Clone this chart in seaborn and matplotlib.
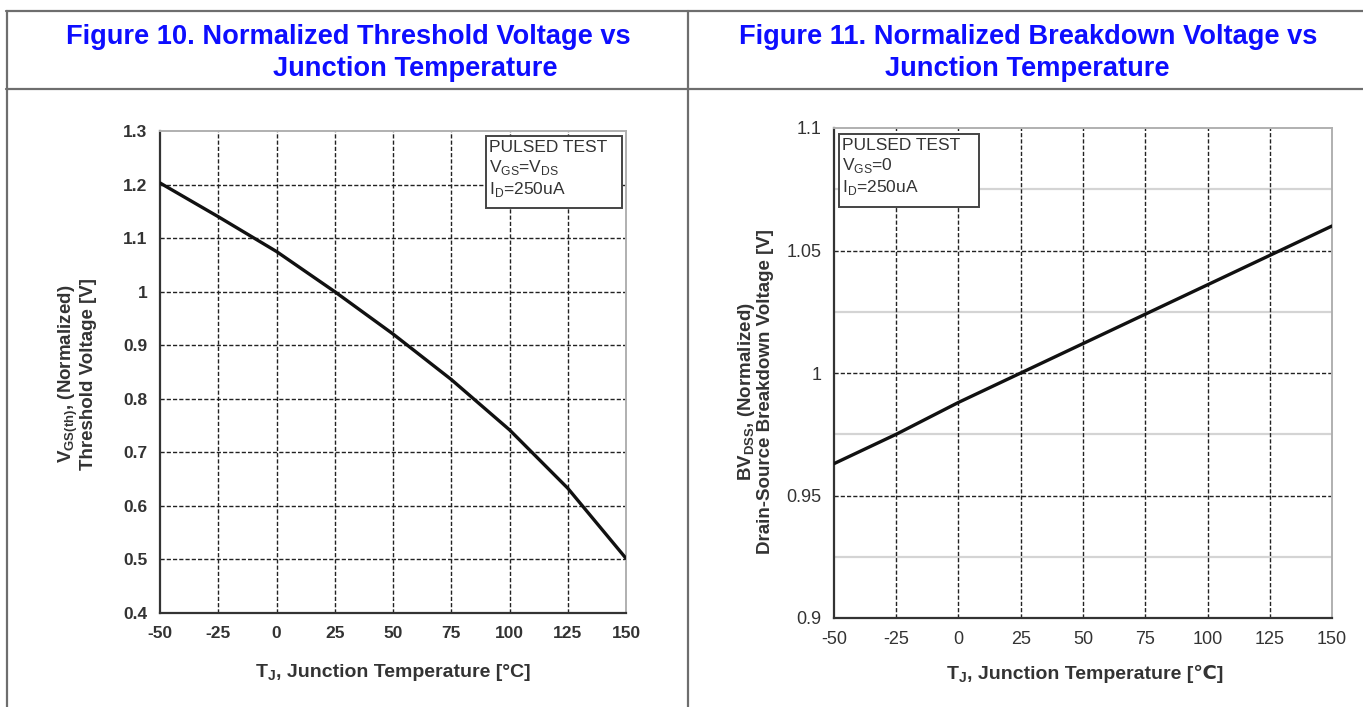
import matplotlib
matplotlib.use("Agg")
import matplotlib.pyplot as plt
from matplotlib.patches import Rectangle
import seaborn as sns
import pandas as pd

# Junction temperature sweep (degC)
temps = [-50, -25, 0, 25, 50, 75, 100, 125, 150]
# Normalized gate threshold voltage VGS(th)
vth_norm = [1.203, 1.140, 1.075, 1.000, 0.921, 0.836, 0.742, 0.633, 0.502]
# Normalized drain-source breakdown voltage BVDSS
bv_norm = [0.963, 0.975, 0.988, 1.000, 1.012, 1.024, 1.036, 1.048, 1.060]

x_ticks = [-50, -25, 0, 25, 50, 75, 100, 125, 150]
vth_ticks = [0.4, 0.5, 0.6, 0.7, 0.8, 0.9, 1.0, 1.1, 1.2, 1.3]
vth_ticklabels = ["0.4", "0.5", "0.6", "0.7", "0.8", "0.9", "1", "1.1", "1.2", "1.3"]
bv_ticks = [0.9, 0.95, 1.0, 1.05, 1.1]
bv_ticklabels = ["0.9", "0.95", "1", "1.05", "1.1"]
bv_minor = [0.925, 0.975, 1.025, 1.075]

sns.set_style("white")
FAM = ["Liberation Sans", "DejaVu Sans"]
plt.rcParams["font.family"] = FAM
plt.rcParams["mathtext.fontset"] = "custom"
plt.rcParams["mathtext.rm"] = "Liberation Sans"
plt.rcParams["mathtext.bf"] = "Liberation Sans:bold"

W, H = 1363, 707
fig = plt.figure(figsize=(W / 100, H / 100), dpi=100)
fig.patch.set_facecolor("white")
renderer = fig.canvas.get_renderer()


def fx(px):
    return px / W


def fy(py):
    return 1 - py / H


def rich_line(xc, ybase, pieces, **kw):
    """Lay out text pieces on one baseline, centred at xc (pixels).
    pieces: (string, fontsize, baseline shift in pixels)."""
    arts, widths = [], []
    for s, size, dy in pieces:
        t = fig.text(0, fy(ybase + dy), s, fontsize=size, ha="left", va="baseline", **kw)
        arts.append(t)
        widths.append(t.get_window_extent(renderer).width)
    x = xc - sum(widths) / 2
    for t, w in zip(arts, widths):
        t.set_x(fx(x))
        x += w


# table frame around the two figures
frame_color = "#6e6e6e"
for (x0, y0, x1, y1) in [(6, 11, W, 11), (6, 89, W, 89), (7, 11, 7, H), (688, 11, 688, H)]:
    fig.add_artist(plt.Line2D([fx(x0), fx(x1)], [fy(y0), fy(y1)], color=frame_color, lw=1.6,
                              transform=fig.transFigure))

title_kw = dict(color="#0d0dff", fontsize=19.6, fontweight="bold", ha="center", va="center")
fig.text(fx(348), fy(37), "Figure 10. Normalized Threshold Voltage vs", **title_kw)
fig.text(fx(415), fy(69), "Junction Temperature", **title_kw)
fig.text(fx(1028), fy(37), "Figure 11. Normalized Breakdown Voltage vs", **title_kw)
fig.text(fx(1027), fy(69), "Junction Temperature", **title_kw)


def make_axes(x0, x1, ytop, ybot):
    return fig.add_axes([fx(x0), fy(ybot), fx(x1) - fx(x0), fy(ytop) - fy(ybot)])


def style_axes(ax):
    for s in ["left", "bottom"]:
        ax.spines[s].set_color("#333333")
        ax.spines[s].set_linewidth(1.6)
    for s in ["top", "right"]:
        ax.spines[s].set_color("#b0b0b0")
        ax.spines[s].set_linewidth(1.4)
    ax.tick_params(length=0, pad=9)
    ax.set_xlabel("")
    ax.set_ylabel("")


def info_box(ax, x0, x1, y0, y1, lines, tx, ty):
    ax.add_patch(Rectangle((x0, y0), x1 - x0, y1 - y0, transform=ax.transAxes,
                           fc="white", ec="#444444", lw=1.4, zorder=5, clip_on=False))
    ax.text(tx, ty, "\n".join(lines), transform=ax.transAxes, ha="left", va="top",
            fontsize=12.5, color="#333333", linespacing=1.22, zorder=6)


dash = dict(color="#222222", lw=1.0, ls=(0, (3, 1.5)))

# ---- Figure 10: threshold voltage ----
ax1 = make_axes(160, 626, 131, 613)
df1 = pd.DataFrame({"T": temps, "V": vth_norm})
ax1.set_xlim(-50, 150)
ax1.set_ylim(0.4, 1.3)
for t in x_ticks[1:-1]:
    ax1.axvline(t, zorder=1, **dash)
for v in vth_ticks[1:-1]:
    ax1.axhline(v, zorder=1, **dash)
sns.lineplot(data=df1, x="T", y="V", ax=ax1, color="#111111", lw=2.4, zorder=3)
style_axes(ax1)
ax1.set_xticks(x_ticks)
ax1.set_xticklabels([str(t) for t in x_ticks], fontsize=12.5, fontweight="bold", color="#333333")
ax1.set_yticks(vth_ticks)
ax1.set_yticklabels(vth_ticklabels, fontsize=12.5, fontweight="bold", color="#333333")
info_box(ax1, 0.6996, 0.9914, 0.840, 0.9896,
         ["PULSED TEST", "V$_{\\mathregular{GS}}$=V$_{\\mathregular{DS}}$", "I$_{\\mathregular{D}}$=250uA"],
         0.707, 0.982)

rich_line(393, 677, [("T", 14, 0), ("J", 10, 3), (", Junction Temperature [°C]", 14, 0)],
          fontweight="bold", color="#333333")
fig.text(fx(77), fy(374), "V$_{\\mathregular{GS(th)}}$, (Normalized)\nThreshold Voltage [V]",
         rotation=90, ha="center", va="center", multialignment="center",
         fontsize=13.5, fontweight="bold", color="#333333", linespacing=1.0)

# ---- Figure 11: breakdown voltage ----
ax2 = make_axes(834, 1332, 128, 618)
df2 = pd.DataFrame({"T": temps, "V": bv_norm})
ax2.set_xlim(-50, 150)
ax2.set_ylim(0.9, 1.1)
for v in bv_minor:
    ax2.axhline(v, color="#d4d4d4", lw=1.6, zorder=1)
for t in x_ticks[1:-1]:
    ax2.axvline(t, zorder=1, **dash)
for v in bv_ticks[1:-1]:
    ax2.axhline(v, zorder=1, **dash)
sns.lineplot(data=df2, x="T", y="V", ax=ax2, color="#111111", lw=2.4, zorder=3)
style_axes(ax2)
ax2.set_xticks(x_ticks)
ax2.set_xticklabels([str(t) for t in x_ticks], fontsize=13, color="#333333")
ax2.set_yticks(bv_ticks)
ax2.set_yticklabels(bv_ticklabels, fontsize=13, color="#333333")
info_box(ax2, 0.010, 0.291, 0.839, 0.988,
         ["PULSED TEST", "V$_{\\mathregular{GS}}$=0", "I$_{\\mathregular{D}}$=250uA"],
         0.017, 0.980)

rich_line(1085, 679, [("T", 14, 0), ("J", 10, 3), (", Junction Temperature [℃]", 14, 0)],
          fontweight="bold", color="#333333")
fig.text(fx(755), fy(392), "BV$_{\\mathregular{DSS}}$, (Normalized)\nDrain-Source Breakdown Voltage [V]",
         rotation=90, ha="center", va="center", multialignment="center",
         fontsize=13.5, fontweight="bold", color="#333333", linespacing=1.0)

fig.savefig("out.png", dpi=100, facecolor="white")
